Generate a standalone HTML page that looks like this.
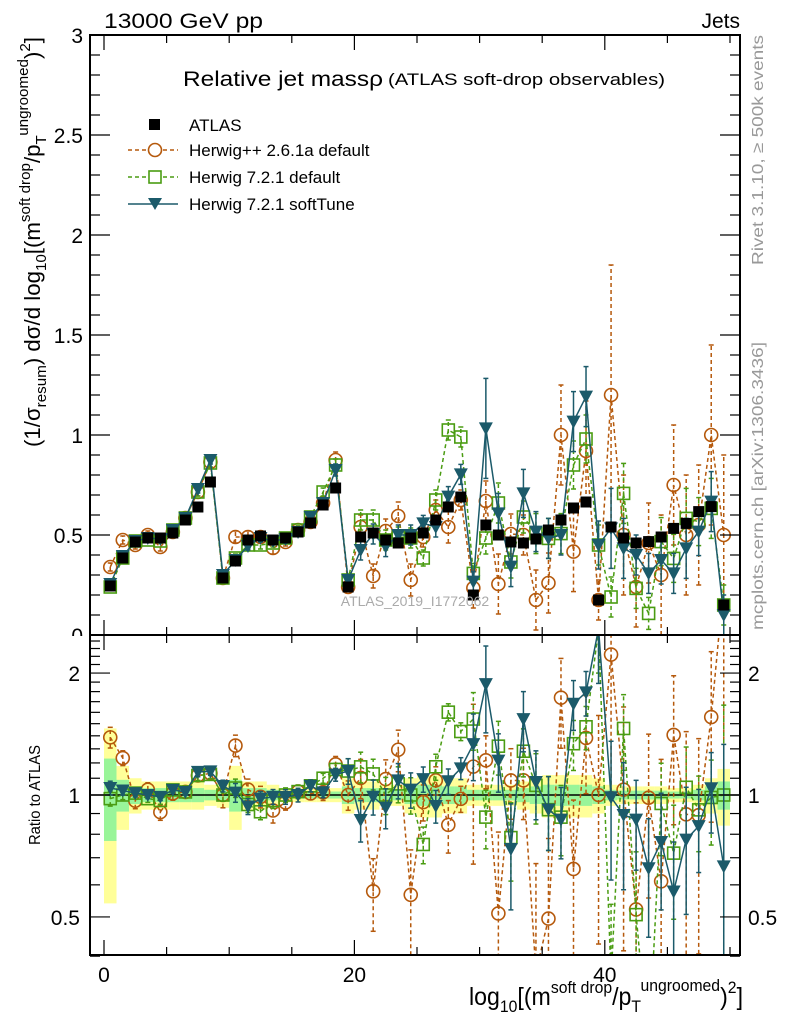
<!DOCTYPE html>
<html><head><meta charset="utf-8"><style>
html,body{margin:0;padding:0;background:#fff;overflow:hidden;width:786px;height:1024px;}
svg{display:block;font-family:"Liberation Sans",sans-serif;}
</style></head><body>
<svg id="chart" width="786" height="1024" viewBox="0 0 786 1024" xmlns="http://www.w3.org/2000/svg">
<defs>
<clipPath id="clipMain"><rect x="90" y="35" width="650" height="600"/></clipPath>
<clipPath id="clipRatio"><rect x="90" y="635" width="650" height="320"/></clipPath>
<clipPath id="clipZero"><rect x="0" y="600" width="90" height="36"/></clipPath>
</defs>
<rect x="0" y="0" width="786" height="1024" fill="#fff"/>
<g id="ratioBands" clip-path="url(#clipRatio)"></g>
<g id="mainMarks" clip-path="url(#clipMain)"></g>
<g id="ratioMarks" clip-path="url(#clipRatio)"></g>
<g id="axes"></g>
<text x="104" y="28" font-size="21" textLength="159" lengthAdjust="spacingAndGlyphs">13000 GeV pp</text>
<text x="740" y="28" font-size="21" text-anchor="end">Jets</text>
<text x="183" y="86" font-size="21" textLength="200" lengthAdjust="spacingAndGlyphs">Relative jet massρ</text>
<text x="388" y="85" font-size="17" textLength="277" lengthAdjust="spacingAndGlyphs">(ATLAS soft-drop observables)</text>
<g id="legend"></g>
<text transform="translate(763,265) rotate(-90)" font-size="16" fill="#999" textLength="230" lengthAdjust="spacingAndGlyphs">Rivet 3.1.10, ≥ 500k events</text>
<text transform="translate(763,630) rotate(-90)" font-size="16" fill="#999" textLength="288" lengthAdjust="spacingAndGlyphs">mcplots.cern.ch [arXiv:1306.3436]</text>
<text x="415" y="606" font-size="14" fill="#aaa" text-anchor="middle">ATLAS_2019_I1772062</text>
<text transform="translate(40,447) rotate(-90)" font-size="22" textLength="410" lengthAdjust="spacingAndGlyphs">(1/σ<tspan font-size="15" dy="6">resum</tspan><tspan dy="-6">) dσ/d log</tspan><tspan font-size="15" dy="6">10</tspan><tspan dy="-6">[(m</tspan><tspan font-size="15" dy="-10">soft drop</tspan><tspan dy="10">/p</tspan><tspan font-size="15" dy="6">T</tspan><tspan font-size="15" dy="-18">ungroomed</tspan><tspan dy="12">)</tspan><tspan font-size="15" dy="-10">2</tspan><tspan dy="10">]</tspan></text>
<text transform="translate(40,845) rotate(-90)" font-size="16" textLength="100" lengthAdjust="spacingAndGlyphs">Ratio to ATLAS</text>
<text x="469" y="1005" font-size="25" textLength="274" lengthAdjust="spacingAndGlyphs">log<tspan font-size="17" dy="7">10</tspan><tspan dy="-7">[(m</tspan><tspan font-size="17" dy="-12">soft drop</tspan><tspan dy="12">/p</tspan><tspan font-size="17" dy="7">T</tspan><tspan font-size="17" dy="-21">ungroomed</tspan><tspan dy="14">)</tspan><tspan font-size="17" dy="-12">2</tspan><tspan dy="12">]</tspan></text>
</svg>
<script>
// ---- data ----
const atlas = [0.245,0.385,0.465,0.485,0.485,0.51,0.575,0.64,0.765,0.285,0.37,0.475,0.495,0.475,0.485,0.515,0.56,0.65,0.735,0.24,0.49,0.51,0.475,0.46,0.485,0.51,0.575,0.64,0.69,0.2,0.55,0.5,0.465,0.46,0.48,0.525,0.575,0.635,0.665,0.175,0.54,0.485,0.46,0.467,0.49,0.533,0.558,0.617,0.642,0.15];
const atlasRelErr = [0.23,0.09,0.05,0.04,0.04,0.04,0.04,0.04,0.03,0.035,0.09,0.04,0.04,0.03,0.02,0.02,0.02,0.02,0.02,0.05,0.04,0.04,0.03,0.03,0.05,0.06,0.06,0.05,0.05,0.03,0.03,0.03,0.03,0.04,0.05,0.06,0.06,0.06,0.06,0.05,0.03,0.025,0.025,0.025,0.025,0.02,0.02,0.03,0.05,0.08];
const herwigpp = [0.34,0.475,0.45,0.5,0.44,0.515,0.585,0.715,0.865,0.285,0.49,0.49,0.49,0.435,0.465,0.525,0.565,0.66,0.875,0.24,0.54,0.295,0.52,0.595,0.275,0.49,0.625,0.54,0.675,0.235,0.67,0.255,0.505,0.5,0.175,0.26,1.0,0.417,0.92,0.175,1.2,0.5,0.24,0.46,0.3,0.75,0.5,0.55,1.0,0.5];
const herwigppErr = [0.02,0.02,0.02,0.02,0.02,0.02,0.02,0.02,0.03,0.02,0.03,0.03,0.03,0.03,0.02,0.02,0.02,0.03,0.04,0.02,0.06,0.06,0.06,0.07,0.08,0.05,0.05,0.08,0.05,0.1,0.1,0.15,0.1,0.1,0.15,0.15,0.25,0.2,0.25,0.1,0.65,0.3,0.2,0.2,0.3,0.3,0.3,0.3,0.45,0.4];
const herwig7 = [0.24,0.385,0.47,0.475,0.47,0.525,0.585,0.715,0.86,0.285,0.385,0.45,0.45,0.46,0.485,0.525,0.59,0.715,0.85,0.275,0.575,0.575,0.475,0.49,0.485,0.385,0.675,1.025,0.99,0.308,0.485,0.66,0.365,0.59,0.507,0.483,0.507,0.85,0.98,0.45,0.19,0.708,0.233,0.108,0.467,0.383,0.583,0.567,0.633,0.15];
const herwig7Err = [0.01,0.01,0.01,0.01,0.01,0.01,0.01,0.02,0.02,0.01,0.02,0.02,0.02,0.02,0.02,0.02,0.02,0.02,0.03,0.02,0.05,0.05,0.05,0.05,0.05,0.04,0.05,0.05,0.05,0.05,0.08,0.1,0.08,0.08,0.1,0.1,0.1,0.12,0.12,0.1,0.1,0.15,0.1,0.08,0.12,0.12,0.15,0.12,0.15,0.1];
const softTune = [0.255,0.395,0.47,0.485,0.48,0.525,0.585,0.73,0.875,0.3,0.375,0.445,0.485,0.47,0.48,0.515,0.59,0.66,0.825,0.275,0.425,0.505,0.442,0.5,0.5,0.558,0.54,0.692,0.803,0.267,1.033,0.608,0.342,0.708,0.517,0.483,0.5,1.067,1.192,0.45,0.533,0.433,0.4,0.308,0.375,0.308,0.433,0.517,0.667,0.1];
const softTuneErr = [0.01,0.01,0.01,0.01,0.01,0.01,0.01,0.02,0.02,0.01,0.02,0.02,0.02,0.02,0.02,0.02,0.02,0.02,0.03,0.02,0.05,0.05,0.05,0.05,0.05,0.04,0.05,0.05,0.05,0.05,0.25,0.1,0.1,0.12,0.1,0.1,0.1,0.15,0.15,0.12,0.2,0.15,0.1,0.1,0.12,0.1,0.15,0.12,0.15,0.1];
const xTickLabels = ["0","20","40"];
const yTickLabels = ["0","0.5","1","1.5","2","2.5","3"];
const ratioTickLabels = ["0.5","1","2"];

// ---- axes functions ----
const NS = "http://www.w3.org/2000/svg";
const X0 = 104, KX = 12.52;
function xs(v){ return X0 + KX*v; }
function ym(v){ return 635 - 200*v; }
function yr(r){ return 795 - 405*Math.log10(Math.max(r,1e-3)); }
function el(tag, attrs, parent){ const e=document.createElementNS(NS,tag); for(const k in attrs) e.setAttribute(k,attrs[k]); parent.appendChild(e); return e; }

const mainG = document.getElementById('mainMarks');
const ratioG = document.getElementById('ratioMarks');
const bandG = document.getElementById('ratioBands');
const axG = document.getElementById('axes');
const legG = document.getElementById('legend');

// ---- ratio bands ----
atlas.forEach((v,i)=>{
  const x1 = xs(i), w = KX;
  const e2 = atlasRelErr[i]*2, e1 = atlasRelErr[i];
  const ry = el('rect',{x:x1,y:yr(1+e2),width:w,height:yr(1-e2)-yr(1+e2),fill:'#ffff99'},bandG);
  
  
  const rg = el('rect',{x:x1,y:yr(1+e1),width:w,height:yr(1-e1)-yr(1+e1),fill:'#99f599'},bandG);
  
  
});
const one = el('line',{x1:90,x2:740,y1:yr(1),y2:yr(1),stroke:'#000','stroke-width':1.5},ratioG);



// ---- marker drawing ----
function marker(type, cx, cy, color, parent){
  let m;
  if(type==='sq') m = el('rect',{x:cx-5.5,y:cy-5.5,width:11,height:11,fill:'#000'},parent);
  else if(type==='osq') m = el('rect',{x:cx-6,y:cy-6,width:12,height:12,fill:'none',stroke:color,'stroke-width':1.6},parent);
  else if(type==='oc') m = el('circle',{cx:cx,cy:cy,r:6.5,fill:'none',stroke:color,'stroke-width':1.6},parent);
  else m = el('polygon',{points:`${cx-7},${cy-6} ${cx+7},${cy-6} ${cx},${cy+7}`,fill:color},parent);
  return m;
}

function drawSeries(vals, errs, color, type, dash, name){
  [[mainG, v=>v, ym, false],[ratioG, (v,i)=>v/atlas[i], yr, true]].forEach(([g, tf, yf, isRatio])=>{
    const grp = el('g',{},g);
    
    
    let pts = vals.map((v,i)=>[xs(i+0.5), yf(tf(v,i))]);
    const pl = el('polyline',{points:pts.map(p=>p.join(',')).join(' '),fill:'none',stroke:color,'stroke-width':1.5},grp);
    if(dash) pl.setAttribute('stroke-dasharray',dash);
    
    
    vals.forEach((v,i)=>{
      if(errs){
        const lo = isRatio ? (v-errs[i])/atlas[i] : v-errs[i];
        const hi = isRatio ? (v+errs[i])/atlas[i] : v+errs[i];
        const cx = xs(i+0.5);
        const eb = el('line',{x1:cx,x2:cx,y1:yf(lo),y2:yf(hi),stroke:color,'stroke-width':1.5},grp);
        if(dash) eb.setAttribute('stroke-dasharray','4,3');
        
        
        el('line',{x1:cx-2.5,x2:cx+2.5,y1:yf(lo),y2:yf(lo),stroke:color,'stroke-width':1.5},grp);
        el('line',{x1:cx-2.5,x2:cx+2.5,y1:yf(hi),y2:yf(hi),stroke:color,'stroke-width':1.5},grp);
      }
      const m = marker(type, pts[i][0], pts[i][1], color, grp);
      
      
    });
  });
}
drawSeries(herwigpp, herwigppErr, '#b5590c', 'oc', '4,3', 'herwigpp-2-6-1a');
drawSeries(herwig7, herwig7Err, '#4a9c12', 'osq', '4,3', 'herwig-7-2-1-default');
drawSeries(softTune, softTuneErr, '#1b5a6a', 'tri', null, 'herwig-7-2-1-softtune');
atlas.forEach((v,i)=>{
  const m = marker('sq', xs(i+0.5), ym(v), '#000', mainG);
  
  
});

// ---- axes ----
function line(x1,y1,x2,y2,w){ return el('line',{x1,y1,x2,y2,stroke:'#000','stroke-width':w||1.2},axG); }
const fr1 = el('rect',{x:90,y:35,width:650,height:600,fill:'none',stroke:'#000','stroke-width':2},axG);


const fr2 = el('rect',{x:90,y:635,width:650,height:320,fill:'none',stroke:'#000','stroke-width':2},axG);


for(let v=0; v<=50; v+=5){
  const x = xs(v), L = (v%20===0)?15:8;
  line(x,955,x,955-L); line(x,635,x,635+L); line(x,635,x,635-L); line(x,35,x,35+L);
}
xTickLabels.forEach(t=>{
  const tx = el('text',{x:xs(+t),y:982,'font-size':21,'text-anchor':'middle'},axG);
  tx.textContent = t;
  
  
});
for(let k=0;k<=30;k++){
  const y = ym(k/10), L = (k%5===0)?20:10;
  line(90,y,90+L,y); line(740,y,740-L,y);
}
yTickLabels.forEach(t=>{
  const tx = el('text',{x:83,y:ym(+t)+8,'font-size':21,'text-anchor':'end'},axG);
  tx.textContent = t;
  
  
  if(t==='0') tx.setAttribute('clip-path','url(#clipZero)');
});
for(let k=4;k<=24;k++){
  const r = k/10; if(k===10) continue;
  const y = yr(r); if(y<636) continue;
  const L = (k===5||k===20)?20:10;
  line(90,y,90+L,y); line(740,y,740-L,y);
}
line(90,yr(1),110,yr(1)); line(740,yr(1),720,yr(1));
ratioTickLabels.forEach(t=>{
  const tl = el('text',{x:80,y:yr(+t)+8,'font-size':21,'text-anchor':'end'},axG);
  tl.textContent = t;
  
  
  const tr = el('text',{x:748,y:yr(+t)+8,'font-size':21},axG);
  tr.textContent = t;
  
  
});

// ---- legend ----
const legendItems = [
  ['ATLAS','sq','#000',null,'legend-atlas'],
  ['Herwig++ 2.6.1a default','oc','#b5590c','4,3','legend-herwigpp'],
  ['Herwig 7.2.1 default','osq','#4a9c12','4,3','legend-herwig7-default'],
  ['Herwig 7.2.1 softTune','tri','#1b5a6a',null,'legend-herwig7-softtune']
];
const legY = [125,150,177,204];
legendItems.forEach((it,i)=>{
  const g = el('g',{},legG);
  
  
  const y = legY[i];
  if(it[1]!=='sq'){
    const l = el('line',{x1:128,x2:178,y1:y,y2:y,stroke:it[2],'stroke-width':1.5},g);
    if(it[3]) l.setAttribute('stroke-dasharray',it[3]);
  }
  if(it[1]==='sq') el('rect',{x:149,y:y-6,width:11,height:11,fill:'#000'},g);
  else if(it[1]==='tri') el('polygon',{points:`${148},${y-6} ${162},${y-6} ${155},${y+6}`,fill:it[2]},g);
  else marker(it[1],155,y,it[2],g).setAttribute('fill','#fff');
  const t = el('text',{x:189,y:y+6,'font-size':17},g);
  t.textContent = it[0];
});
</script>
</body></html>
